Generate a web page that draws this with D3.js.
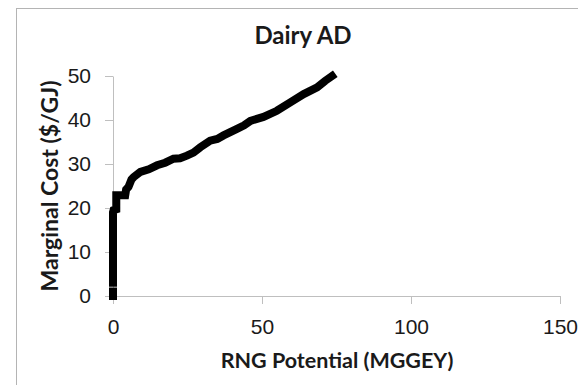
<!DOCTYPE html>
<html>
<head>
<meta charset="utf-8"/>
<script src="https://d3js.org/d3.v7.min.js"></script>
<style type="text/css">
body { margin: 0; background: #fff; }
svg { font-family: Lato, "Open Sans", sans-serif; }
.frame { fill: none; stroke: #b4b4b4; stroke-width: 1px; }
.axis path, .axis line { stroke: #bfbfbf; stroke-width: 1px; }
.axis text { fill: #1a1a1a; font-size: 21px; }
.curve { fill: none; stroke: #000; stroke-width: 8px; stroke-linejoin: miter; stroke-linecap: square; }
.title { font-size: 24px; font-weight: bold; fill: #1a1a1a; }
.label { font-weight: bold; fill: #1a1a1a; }
</style>
</head>
<body>
<script>

// cumulative RNG potential (MGGEY) and marginal cost ($/GJ)
var potential = [0, 0, 0, 0, 0, 0, 0, 0.2, 1.1, 1.1, 2.4, 4.1, 4.4, 5.2, 6.2, 6.9, 9.2, 12.0, 14.8, 17.5, 20.3, 22.5, 24.8, 27.0, 29.3, 32.6, 35.0, 37.1, 41.6, 44.0, 46.1, 50.5, 55.0, 59.5, 64.0, 68.5, 71.2, 73.5];
var cost      = [0, 1, null, 3, 8, 14, 19, 19.5, 19.7, 22.9, 22.9, 22.9, 24.2, 24.8, 26.5, 27, 28.2, 28.8, 29.7, 30.3, 31.2, 31.3, 31.9, 32.6, 33.8, 35.3, 35.7, 36.5, 38.0, 38.8, 39.8, 40.7, 42.1, 44.0, 45.9, 47.4, 48.9, 50.0];

var xTicks = [0, 50, 100, 150];
var yTicks = [0, 10, 20, 30, 40, 50];

var width = 578, height = 385;
var margin = {top: 76, right: 18, bottom: 89, left: 113};

var svg = d3.select("body").append("svg")
    .attr("width", width)
    .attr("height", height);

svg.append("rect")
    .attr("class", "frame")
    .attr("x", 16.5)
    .attr("y", 8.5)
    .attr("width", 600)
    .attr("height", 400);

var x = d3.scaleLinear()
    .domain([0, 150])
    .range([margin.left, width - margin.right]);

var y = d3.scaleLinear()
    .domain([0, 50])
    .range([height - margin.bottom, margin.top]);

svg.append("g")
    .attr("class", "axis")
    .attr("transform", "translate(0," + y(0) + ")")
    .call(d3.axisBottom(x).tickValues(xTicks).tickSize(8).tickPadding(15).tickSizeOuter(0));

svg.append("g")
    .attr("class", "axis")
    .attr("transform", "translate(" + x(0) + ",0)")
    .call(d3.axisLeft(y).tickValues(yTicks).tickSize(8).tickPadding(14).tickSizeOuter(0));

svg.selectAll(".axis text").attr("font-family", null).attr("font-size", null);

var data = potential.map(function(p, i) { return {x: p, y: cost[i]}; });

var line = d3.line()
    .defined(function(d) { return d.y != null; })
    .x(function(d) { return x(d.x); })
    .y(function(d) { return y(d.y); });

svg.append("path")
    .datum(data)
    .attr("class", "curve")
    .attr("d", line);

svg.append("text")
    .attr("class", "title")
    .attr("x", 303)
    .attr("y", 44)
    .attr("text-anchor", "middle")
    .text("Dairy AD");

svg.append("text")
    .attr("class", "label")
    .attr("x", 337)
    .attr("y", 368)
    .attr("text-anchor", "middle")
    .style("font-size", "21.5px")
    .text("RNG Potential (MGGEY)");

svg.append("text")
    .attr("class", "label")
    .attr("transform", "translate(58," + 186 + ") rotate(-90)")
    .attr("text-anchor", "middle")
    .style("font-size", "23px")
    .text("Marginal Cost ($/GJ)");

</script>
</body>
</html>
